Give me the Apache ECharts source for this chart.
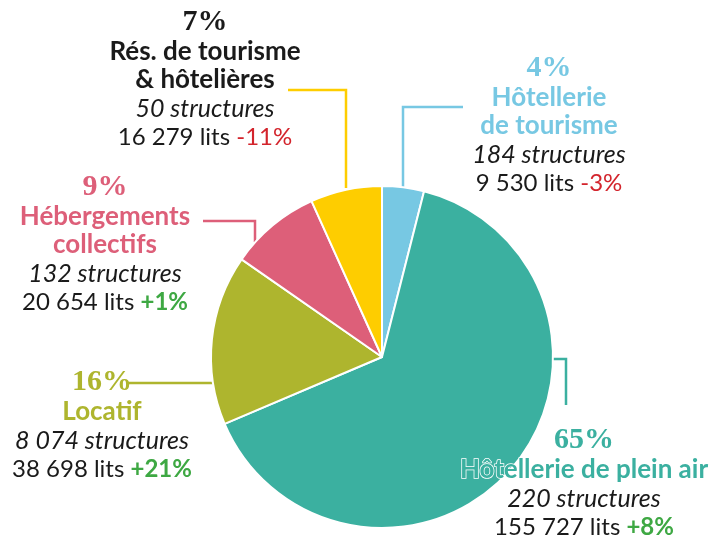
<!DOCTYPE html>
<html>
<head>
<meta charset="utf-8">
<script src="https://cdn.jsdelivr.net/npm/echarts@6/dist/echarts.min.js"></script>
<style>
  html, body { margin: 0; padding: 0; background: #fff; }
  #chart { width: 710px; height: 541px; }
</style>
</head>
<body>
<div id="chart"></div>
<script>
// données (lits par type d'hébergement)
var titles = [['Hôtellerie', 'de tourisme'], ['Hôtellerie de plein air'], ['Locatif'], ['Hébergements', 'collectifs'], ['Rés. de tourisme', '& hôtelières']];
var lits = [9530, 155727, 38698, 20654, 16279];
var structures = [184, 220, 8074, 132, 50];
var evolution = ['-3%', '+8%', '+21%', '+1%', '-11%'];
var colors = ['#77c8e3', '#3bb0a0', '#aeb52e', '#dd5f79', '#fecd00'];

// position des étiquettes et des traits de rappel
var labelPos = [[549, 52], [584, 424], [102, 366], [105, 171], [205, 6]];
var guides = [
    [[403, 188], [403, 107], [463, 107]],
    [[552, 359], [566, 359], [566, 405]],
    [[213, 383], [170, 383], [127, 383]],
    [[255, 242], [255, 221], [203, 221]],
    [[346, 188], [346, 90], [288, 90]]
];

function fmt(n) {
    return String(n).replace(/\B(?=(\d{3})+(?!\d))/g, ' ');
}

var data = [];
for (var i = 0; i < lits.length; i++) {
    var titleColor = i === 4 ? '#1a1a1a' : colors[i];
    data.push({
        name: titles[i].join(' '),
        value: lits[i],
        itemStyle: { color: colors[i] },
        labelLine: { lineStyle: { color: colors[i] } },
        label: {
            rich: {
                p: { color: titleColor },
                n: {
                    color: titleColor,
                    textBorderColor: i === 1 ? '#fff' : 'transparent',
                    textBorderWidth: i === 1 ? 1.5 : 0
                }
            }
        }
    });
}

var myChart = echarts.init(document.getElementById('chart'));
var option = {
    animation: false,
    series: [{
        type: 'pie',
        center: [382, 357],
        radius: 171,
        startAngle: 90,
        data: data,
        itemStyle: { borderColor: '#fff', borderWidth: 2 },
        label: {
            show: true,
            position: 'outside',
            align: 'center',
            overflow: 'none',
            formatter: function (p) {
                var i = p.dataIndex;
                var lines = ['{p|' + Math.round(p.percent) + '%}'];
                titles[i].forEach(function (t) { lines.push('{n|' + t + '}'); });
                lines.push('{s|' + fmt(structures[i]) + ' structures}');
                var ev = evolution[i].charAt(0) === '-' ? 'neg' : 'pos';
                lines.push('{l|' + fmt(lits[i]) + ' lits }{' + ev + '|' + evolution[i] + '}');
                return lines.join('\n');
            },
            rich: {
                p: { fontFamily: 'Liberation Serif', fontWeight: 'bold', fontSize: 30, lineHeight: 32 },
                n: { fontFamily: 'Lato', fontWeight: 'bold', fontSize: 26, lineHeight: 28 },
                s: { fontFamily: 'Lato', fontStyle: 'italic', fontSize: 25, lineHeight: 29, color: '#1a1a1a' },
                l: { fontFamily: 'Lato', fontSize: 24, lineHeight: 28, color: '#1a1a1a' },
                neg: { fontFamily: 'Lato', fontSize: 24, lineHeight: 28, color: '#d3242c' },
                pos: { fontFamily: 'Lato', fontWeight: 'bold', fontSize: 24, lineHeight: 28, color: '#3ea843' }
            }
        },
        labelLine: { show: true, lineStyle: { width: 2.5 } },
        labelLayout: function (params) {
            var i = params.dataIndex;
            return {
                x: labelPos[i][0],
                y: labelPos[i][1],
                width: 300,
                align: 'center',
                verticalAlign: 'top',
                labelLinePoints: guides[i]
            };
        }
    }]
};

if (option && typeof option === "object") {
    myChart.setOption(option, true);
}
</script>
</body>
</html>
